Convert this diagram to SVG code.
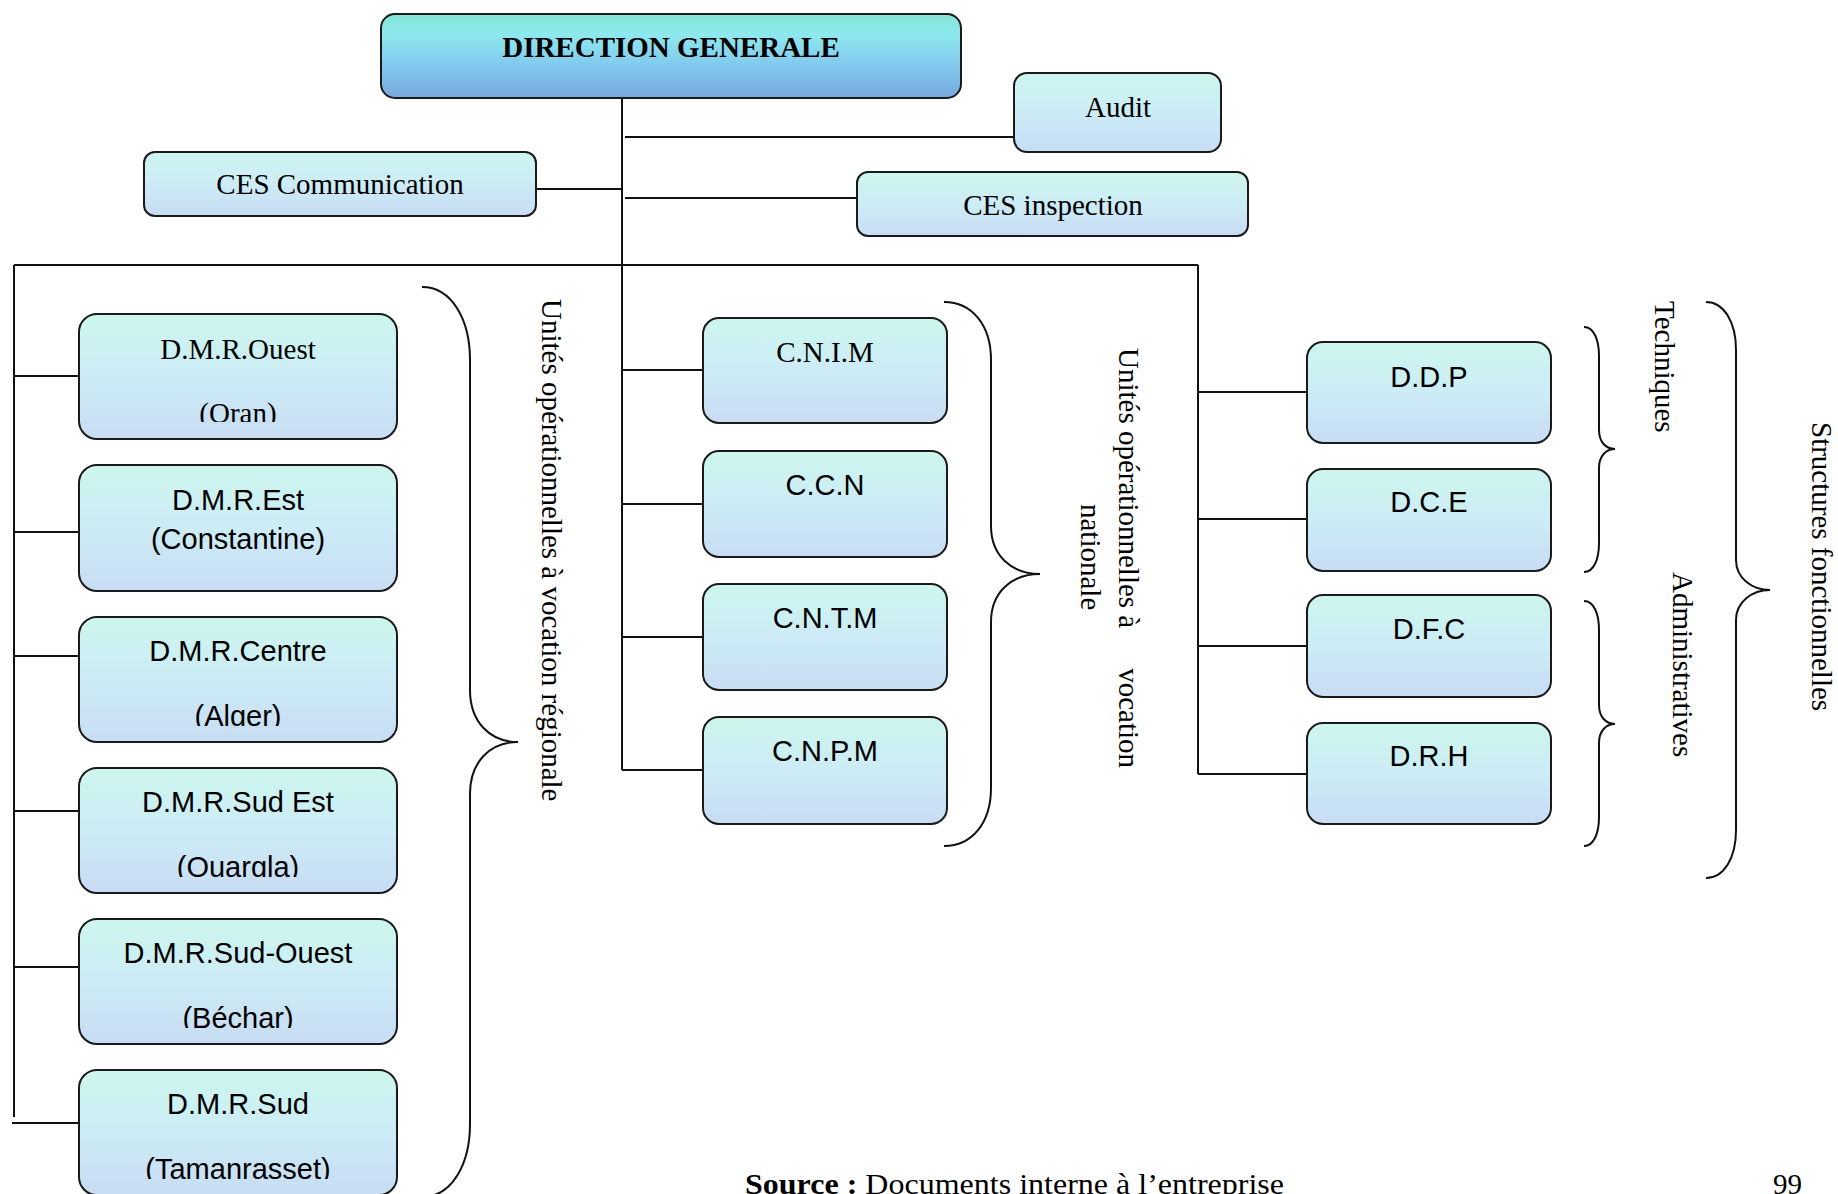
<svg xmlns="http://www.w3.org/2000/svg" width="1838" height="1194" viewBox="0 0 1838 1194">
  <defs>
    <linearGradient id="gHead" x1="0" y1="0" x2="0" y2="1">
      <stop offset="0" stop-color="#84e6d6"/>
      <stop offset="0.25" stop-color="#8ee8ee"/>
      <stop offset="0.65" stop-color="#80c6ee"/>
      <stop offset="1" stop-color="#78a9de"/>
    </linearGradient>
    <linearGradient id="gUnit" x1="0" y1="0" x2="0" y2="1">
      <stop offset="0" stop-color="#cdf6ee"/>
      <stop offset="0.5" stop-color="#ccecf6"/>
      <stop offset="1" stop-color="#c8dcf3"/>
    </linearGradient>
    <!-- second text lines of the regional boxes are cut off just above the box bottom -->
    <clipPath id="cr1"><rect x="79" y="314" width="318" height="108"/></clipPath>
    <clipPath id="cr3"><rect x="79" y="617" width="318" height="109"/></clipPath>
    <clipPath id="cr4"><rect x="79" y="768" width="318" height="109"/></clipPath>
    <clipPath id="cr5"><rect x="79" y="919" width="318" height="109"/></clipPath>
    <clipPath id="cr6"><rect x="79" y="1070" width="318" height="109"/></clipPath>
  </defs>
  <style>
    .box { fill: url(#gUnit); stroke: #1a1a1a; stroke-width: 2; }
    .head { fill: url(#gHead); stroke: #1a1a1a; stroke-width: 2; }
    .serif { font-family: "Liberation Serif", "Times New Roman", serif; font-size: 29px; fill: #000; }
    .sans { font-family: "Liberation Sans", Arial, sans-serif; font-size: 29px; fill: #000; }
    .c { text-anchor: middle; }
    .ln { stroke: #111; stroke-width: 2; fill: none; }
    .brace { stroke: #111; stroke-width: 2; fill: none; }
  </style>

  <!-- connectors -->
  <g id="connectors">
    <line class="ln" x1="622" y1="98" x2="622" y2="770"/>
    <line class="ln" x1="625" y1="137" x2="1014" y2="137"/>
    <line class="ln" x1="536" y1="189" x2="622" y2="189"/>
    <line class="ln" x1="625" y1="198" x2="857" y2="198"/>
    <line class="ln" x1="14" y1="265" x2="1198" y2="265"/>
    <!-- regional branch -->
    <line class="ln" x1="14" y1="265" x2="14" y2="1117"/>
    <line class="ln" x1="14" y1="376" x2="79" y2="376"/>
    <line class="ln" x1="14" y1="532" x2="79" y2="532"/>
    <line class="ln" x1="14" y1="656" x2="79" y2="656"/>
    <line class="ln" x1="14" y1="811" x2="79" y2="811"/>
    <line class="ln" x1="14" y1="967" x2="79" y2="967"/>
    <line class="ln" x1="12" y1="1123" x2="79" y2="1123"/>
    <!-- national branch -->
    <line class="ln" x1="622" y1="370" x2="703" y2="370"/>
    <line class="ln" x1="622" y1="504" x2="703" y2="504"/>
    <line class="ln" x1="622" y1="637" x2="703" y2="637"/>
    <line class="ln" x1="622" y1="770" x2="703" y2="770"/>
    <!-- functional branch -->
    <line class="ln" x1="1198" y1="265" x2="1198" y2="774"/>
    <line class="ln" x1="1198" y1="392" x2="1307" y2="392"/>
    <line class="ln" x1="1198" y1="519" x2="1307" y2="519"/>
    <line class="ln" x1="1198" y1="646" x2="1307" y2="646"/>
    <line class="ln" x1="1198" y1="774" x2="1307" y2="774"/>
  </g>

  <!-- top management -->
  <g id="direction-generale">
    <rect class="head" x="381" y="14" width="580" height="84" rx="14"/>
    <text class="serif c" x="671" y="57" font-weight="bold">DIRECTION GENERALE</text>
  </g>
  <g id="audit">
    <rect class="box" x="1014" y="73" width="207" height="79" rx="13"/>
    <text class="serif c" x="1118" y="117">Audit</text>
  </g>
  <g id="ces-communication">
    <rect class="box" x="144" y="152" width="392" height="64" rx="11"/>
    <text class="serif c" x="340" y="194">CES Communication</text>
  </g>
  <g id="ces-inspection">
    <rect class="box" x="857" y="172" width="391" height="64" rx="11"/>
    <text class="serif c" x="1053" y="215">CES inspection</text>
  </g>

  <!-- regional units -->
  <g id="dmr-ouest">
    <rect class="box" x="79" y="314" width="318" height="125" rx="18"/>
    <text class="serif c" x="238" y="359">D.M.R.Ouest</text>
    <text class="serif c" x="238" y="423" clip-path="url(#cr1)">(Oran)</text>
  </g>
  <g id="dmr-est">
    <rect class="box" x="79" y="465" width="318" height="126" rx="18"/>
    <text class="sans c" x="238" y="510">D.M.R.Est</text>
    <text class="sans c" x="238" y="549">(Constantine)</text>
  </g>
  <g id="dmr-centre">
    <rect class="box" x="79" y="617" width="318" height="125" rx="18"/>
    <text class="sans c" x="238" y="661">D.M.R.Centre</text>
    <text class="sans c" x="238" y="726" clip-path="url(#cr3)">(Alger)</text>
  </g>
  <g id="dmr-sud-est">
    <rect class="box" x="79" y="768" width="318" height="125" rx="18"/>
    <text class="sans c" x="238" y="812">D.M.R.Sud Est</text>
    <text class="sans c" x="238" y="877" clip-path="url(#cr4)">(Ouargla)</text>
  </g>
  <g id="dmr-sud-ouest">
    <rect class="box" x="79" y="919" width="318" height="125" rx="18"/>
    <text class="sans c" x="238" y="963">D.M.R.Sud-Ouest</text>
    <text class="sans c" x="238" y="1028" clip-path="url(#cr5)">(Béchar)</text>
  </g>
  <g id="dmr-sud">
    <rect class="box" x="79" y="1070" width="318" height="125" rx="18"/>
    <text class="sans c" x="238" y="1114">D.M.R.Sud</text>
    <text class="sans c" x="238" y="1179" clip-path="url(#cr6)">(Tamanrasset)</text>
  </g>

  <!-- national units -->
  <g id="cnim">
    <rect class="box" x="703" y="318" width="244" height="105" rx="16"/>
    <text class="serif c" x="825" y="362">C.N.I.M</text>
  </g>
  <g id="ccn">
    <rect class="box" x="703" y="451" width="244" height="106" rx="16"/>
    <text class="sans c" x="825" y="495">C.C.N</text>
  </g>
  <g id="cntm">
    <rect class="box" x="703" y="584" width="244" height="106" rx="16"/>
    <text class="sans c" x="825" y="628">C.N.T.M</text>
  </g>
  <g id="cnpm">
    <rect class="box" x="703" y="717" width="244" height="107" rx="16"/>
    <text class="sans c" x="825" y="761">C.N.P.M</text>
  </g>

  <!-- functional structures -->
  <g id="ddp">
    <rect class="box" x="1307" y="342" width="244" height="101" rx="16"/>
    <text class="sans c" x="1429" y="387">D.D.P</text>
  </g>
  <g id="dce">
    <rect class="box" x="1307" y="469" width="244" height="102" rx="16"/>
    <text class="sans c" x="1429" y="512">D.C.E</text>
  </g>
  <g id="dfc">
    <rect class="box" x="1307" y="595" width="244" height="102" rx="16"/>
    <text class="sans c" x="1429" y="639">D.F.C</text>
  </g>
  <g id="drh">
    <rect class="box" x="1307" y="723" width="244" height="101" rx="16"/>
    <text class="sans c" x="1429" y="766">D.R.H</text>
  </g>

  <!-- grouping braces -->
  <g id="braces">
    <path class="brace" d="M422,287 C452,287 470,320 470,360 L470,690 C470,722 490,742 518,742 C490,742 470,762 470,794 L470,1124 C470,1164 452,1197 422,1197"/>
    <path class="brace" d="M944,302 C972,302 991,325 991,360 L991,526 C991,556 1012,574 1040,574 C1012,574 991,592 991,622 L991,788 C991,823 972,846 944,846"/>
    <path class="brace" d="M1584,327 C1594,327 1599,340 1599,356 L1599,430 C1599,442 1606,449 1615,449 C1606,449 1599,456 1599,468 L1599,543 C1599,559 1594,572 1584,572"/>
    <path class="brace" d="M1584,601 C1594,601 1599,614 1599,630 L1599,705 C1599,717 1606,724 1615,724 C1606,724 1599,731 1599,743 L1599,817 C1599,833 1594,846 1584,846"/>
    <path class="brace" d="M1706,302 C1724,302 1736,322 1736,350 L1736,560 C1736,578 1752,590 1770,590 C1752,590 1736,602 1736,620 L1736,830 C1736,858 1724,878 1706,878"/>
  </g>

  <!-- group labels, reading top to bottom -->
  <g id="labels">
    <text class="serif" transform="translate(542,299) rotate(90)">Unités opérationnelles à vocation régionale</text>
    <text class="serif" transform="translate(1119,348) rotate(90)">Unités opérationnelles à</text>
    <text class="serif" text-anchor="end" transform="translate(1119,768) rotate(90)">vocation</text>
    <text class="serif" transform="translate(1081,504) rotate(90)">nationale</text>
    <text class="serif" transform="translate(1655,301) rotate(90)">Techniques</text>
    <text class="serif" transform="translate(1673,572) rotate(90)">Administratives</text>
    <text class="serif" transform="translate(1812,422) rotate(90)">Structures fonctionnelles</text>
  </g>

  <!-- page footer -->
  <g id="footer">
    <text class="serif" x="745" y="1194" font-size="31" textLength="539" lengthAdjust="spacingAndGlyphs"><tspan font-weight="bold">Source :</tspan> Documents interne à l’entreprise</text>
    <text class="serif" x="1773" y="1194" font-size="31">99</text>
  </g>
</svg>
